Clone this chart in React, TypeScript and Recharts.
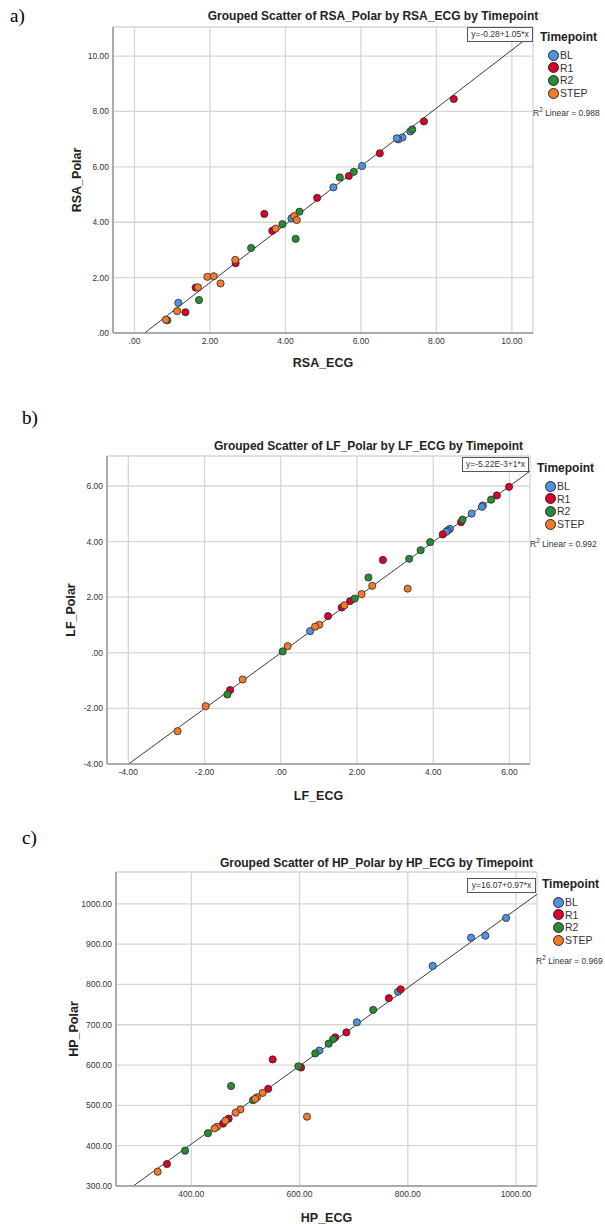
import React from "react";
import {
  CartesianGrid,
  ReferenceLine,
  Scatter,
  ScatterChart,
  XAxis,
  YAxis,
} from "recharts";

// Timepoint groups and their colours
const groups = ["BL", "R1", "R2", "STEP"];
const groupColors = ["#4f93e0", "#d9002b", "#2b8a35", "#f27a2a"];

// a) RSA
const rsaBL = [
  { x: 5.27, y: 5.26 }, { x: 4.16, y: 4.14 }, { x: 1.16, y: 1.09 }, { x: 7.31, y: 7.28 },
  { x: 7.1, y: 7.06 }, { x: 6.99, y: 6.99 }, { x: 6.95, y: 7.03 }, { x: 6.03, y: 6.03 },
];
const rsaR1 = [
  { x: 4.84, y: 4.88 }, { x: 3.44, y: 4.3 }, { x: 3.65, y: 3.69 }, { x: 2.68, y: 2.52 },
  { x: 1.62, y: 1.64 }, { x: 1.35, y: 0.75 }, { x: 8.46, y: 8.45 }, { x: 7.67, y: 7.64 },
  { x: 6.5, y: 6.49 }, { x: 5.68, y: 5.67 },
];
const rsaR2 = [
  { x: 4.37, y: 4.38 }, { x: 3.92, y: 3.93 }, { x: 4.27, y: 3.4 }, { x: 3.09, y: 3.07 },
  { x: 1.71, y: 1.19 }, { x: 0.87, y: 0.46 }, { x: 7.36, y: 7.35 }, { x: 5.81, y: 5.82 },
  { x: 5.44, y: 5.62 },
];
const rsaSTEP = [
  { x: 4.23, y: 4.22 }, { x: 4.3, y: 4.08 }, { x: 3.74, y: 3.77 }, { x: 2.67, y: 2.64 },
  { x: 1.93, y: 2.03 }, { x: 2.1, y: 2.05 }, { x: 2.28, y: 1.79 }, { x: 1.68, y: 1.65 },
  { x: 1.13, y: 0.79 }, { x: 0.83, y: 0.48 },
];
const rsaTicks = [0, 2, 4, 6, 8, 10];

// b) LF
const lfBL = [
  { x: 5.3, y: 5.3 }, { x: 5.28, y: 5.25 }, { x: 5.01, y: 5.01 }, { x: 4.44, y: 4.46 },
  { x: 4.38, y: 4.4 }, { x: 4.34, y: 4.35 }, { x: 0.77, y: 0.78 },
];
const lfR1 = [
  { x: 5.99, y: 5.97 }, { x: 5.67, y: 5.66 }, { x: 4.73, y: 4.7 }, { x: 4.25, y: 4.26 },
  { x: 2.68, y: 3.34 }, { x: 1.82, y: 1.86 }, { x: 1.6, y: 1.63 }, { x: 1.24, y: 1.32 },
  { x: -1.33, y: -1.34 },
];
const lfR2 = [
  { x: 5.52, y: 5.51 }, { x: 4.77, y: 4.79 }, { x: 3.92, y: 3.98 }, { x: 3.67, y: 3.69 },
  { x: 3.37, y: 3.38 }, { x: 2.3, y: 2.71 }, { x: 1.94, y: 1.95 }, { x: 0.05, y: 0.05 },
  { x: -1.4, y: -1.5 },
];
const lfSTEP = [
  { x: 2.4, y: 2.41 }, { x: 3.33, y: 2.31 }, { x: 2.12, y: 2.11 }, { x: 1.67, y: 1.71 },
  { x: 1.01, y: 1.01 }, { x: 0.9, y: 0.94 }, { x: 0.18, y: 0.24 }, { x: -1.0, y: -0.96 },
  { x: -1.97, y: -1.92 }, { x: -2.71, y: -2.82 },
];
const lfTicks = [-4, -2, 0, 2, 4, 6];

// c) HP
const hpBL = [
  { x: 981.7, y: 965 }, { x: 943.4, y: 921 }, { x: 917, y: 916 }, { x: 846, y: 846 },
  { x: 782, y: 782 }, { x: 706, y: 706 }, { x: 636.6, y: 636 },
];
const hpR1 = [
  { x: 786.9, y: 788 }, { x: 765, y: 766 }, { x: 686.5, y: 681 }, { x: 666, y: 669 },
  { x: 602.8, y: 594 }, { x: 550.3, y: 614 }, { x: 542, y: 541 }, { x: 469, y: 467 },
  { x: 458.6, y: 454.6 }, { x: 355, y: 354.6 },
];
const hpR2 = [
  { x: 736, y: 737 }, { x: 662, y: 664 }, { x: 653.8, y: 653 }, { x: 629, y: 629 },
  { x: 597.8, y: 597 }, { x: 473.4, y: 548 }, { x: 514, y: 513 }, { x: 430.8, y: 431 },
  { x: 388.4, y: 387.6 },
];
const hpSTEP = [
  { x: 613.8, y: 472 }, { x: 531.8, y: 531 }, { x: 521.4, y: 520 }, { x: 518, y: 516 },
  { x: 490.6, y: 490 }, { x: 481.9, y: 482 }, { x: 462.8, y: 462 }, { x: 447.5, y: 447 },
  { x: 443, y: 443 }, { x: 337.7, y: 335.5 },
];
const hpXTicks = [400, 600, 800, 1000];
const hpYTicks = [300, 400, 500, 600, 700, 800, 900, 1000];

type Pt = { x: number; y: number };

interface PanelProps {
  letter: string;
  letterPos: [number, number];
  top: number;
  height: number;
  plot: { left: number; right: number; top: number; bottom: number };
  xDomain: [number, number];
  yDomain: [number, number];
  xTicks: number[];
  yTicks: number[];
  series: Pt[][];
  fit: [number, number];
  title: string;
  titleY: number;
  xLabel: string;
  yLabel: string;
  xLabelY: number;
  yLabelX: number;
  eqText: string;
  eqBox: { left: number; top: number; width: number };
  legend: { left: number; top: number; dotX: number };
  r2Text: string;
  r2Pos: [number, number];
}

const fmt = (v: number) => (v === 0 ? ".00" : v.toFixed(2));

const FONT = "'Liberation Sans', Arial, sans-serif";
const YW = 50;
const XH = 20;
const W = 605;

const Panel = (p: PanelProps) => {
  const margin = {
    top: p.plot.top - p.top,
    left: p.plot.left - YW,
    right: W - p.plot.right,
    bottom: p.top + p.height - p.plot.bottom - XH,
  };
  const [b, m] = p.fit;
  const x1 = Math.max(p.xDomain[0], (p.yDomain[0] - b) / m);
  const x2 = Math.min(p.xDomain[1], (p.yDomain[1] - b) / m);
  const cx = (p.plot.left + p.plot.right) / 2;
  const cy = (p.plot.top + p.plot.bottom) / 2;
  return (
    <>
      <div style={{ position: "absolute", left: 0, top: p.top }}>
        <ScatterChart width={W} height={p.height} margin={margin}>
          <CartesianGrid stroke="#d6d6d6" strokeWidth={1.3} />
          <XAxis
            type="number"
            dataKey="x"
            domain={p.xDomain}
            ticks={p.xTicks}
            tickFormatter={fmt}
            allowDataOverflow
            height={XH}
            tickLine={false}
            tickSize={3}
            tickMargin={2}
            axisLine={{ stroke: "#9a9a9a", strokeWidth: 1.5 }}
            tick={{ fontSize: 8.5, fill: "#333", fontFamily: FONT }}
          />
          <YAxis
            type="number"
            dataKey="y"
            domain={p.yDomain}
            ticks={p.yTicks}
            tickFormatter={fmt}
            allowDataOverflow
            width={YW}
            tickLine={false}
            tickSize={3}
            tickMargin={1}
            axisLine={{ stroke: "#9a9a9a", strokeWidth: 1.5 }}
            tick={{ fontSize: 8.5, fill: "#333", fontFamily: FONT }}
          />
          <ReferenceLine
            segment={[
              { x: x1, y: b + m * x1 },
              { x: x2, y: b + m * x2 },
            ]}
            stroke="#3a3a3a"
            strokeWidth={1}
            ifOverflow="hidden"
          />
          {p.series.map((data, i) => (
            <Scatter
              key={groups[i]}
              name={groups[i]}
              data={data}
              isAnimationActive={false}
              shape={(props: any) => (
                <circle
                  cx={props.cx}
                  cy={props.cy}
                  r={3.6}
                  fill={groupColors[i]}
                  stroke="#2a2a2a"
                  strokeWidth={0.8}
                />
              )}
            />
          ))}
        </ScatterChart>
      </div>

      <div
        style={{
          position: "absolute",
          left: p.letterPos[0],
          top: p.letterPos[1],
          fontFamily: "'Liberation Serif', 'Times New Roman', serif",
          fontSize: 19,
          lineHeight: "20px",
        }}
      >
        {p.letter}
      </div>

      <div
        style={{
          position: "absolute",
          left: cx + 50,
          top: p.titleY,
          transform: "translate(-50%, -50%)",
          whiteSpace: "nowrap",
          fontFamily: FONT,
          fontWeight: "bold",
          fontSize: 12,
          color: "#222",
        }}
      >
        {p.title}
      </div>

      <div
        style={{
          position: "absolute",
          left: cx,
          top: p.xLabelY,
          transform: "translate(-50%, -50%)",
          whiteSpace: "nowrap",
          fontFamily: FONT,
          fontWeight: "bold",
          fontSize: 12.5,
          color: "#222",
        }}
      >
        {p.xLabel}
      </div>

      <div
        style={{
          position: "absolute",
          left: p.yLabelX,
          top: cy,
          transform: "translate(-50%, -50%) rotate(-90deg)",
          whiteSpace: "nowrap",
          fontFamily: FONT,
          fontWeight: "bold",
          fontSize: 12.5,
          color: "#222",
        }}
      >
        {p.yLabel}
      </div>

      <div
        style={{
          position: "absolute",
          left: p.eqBox.left,
          top: p.eqBox.top,
          width: p.eqBox.width,
          height: 15,
          boxSizing: "border-box",
          border: "1px solid #555",
          background: "#fff",
          fontFamily: FONT,
          fontSize: 8.5,
          lineHeight: "13px",
          textAlign: "center",
          color: "#333",
          whiteSpace: "nowrap",
        }}
      >
        {p.eqText}
      </div>

      <div
        style={{
          position: "absolute",
          left: p.legend.left,
          top: p.legend.top - 8,
          fontFamily: FONT,
          fontWeight: "bold",
          fontSize: 12,
          lineHeight: "16px",
          color: "#222",
          whiteSpace: "nowrap",
        }}
      >
        Timepoint
      </div>
      {groups.map((g, i) => (
        <div
          key={g}
          style={{
            position: "absolute",
            left: p.legend.dotX - 5,
            top: p.legend.top + 18 + i * 12.7 - 6,
            height: 12,
            display: "flex",
            alignItems: "center",
            fontFamily: FONT,
            fontSize: 10.5,
            color: "#333",
            whiteSpace: "nowrap",
          }}
        >
          <span
            style={{
              display: "inline-block",
              width: 9,
              height: 9,
              borderRadius: "50%",
              background: groupColors[i],
              border: "0.8px solid #2a2a2a",
              marginRight: 1,
            }}
          />
          {g}
        </div>
      ))}

      <div
        style={{
          position: "absolute",
          left: p.r2Pos[0],
          top: p.r2Pos[1] - 6,
          fontFamily: FONT,
          fontSize: 8.5,
          lineHeight: "12px",
          color: "#333",
          whiteSpace: "nowrap",
        }}
      >
        R<sup style={{ fontSize: 6.5 }}>2</sup> {p.r2Text}
      </div>
    </>
  );
};

export default function App() {
  return (
    <div
      style={{
        position: "absolute",
        left: 0,
        top: 0,
        width: W,
        height: 1224,
        background: "#fff",
        overflow: "hidden",
      }}
    >
      <Panel
        letter="a)"
        letterPos={[10, 6]}
        top={0}
        height={350}
        plot={{ left: 113, right: 533, top: 27, bottom: 333 }}
        xDomain={[-0.57, 10.56]}
        yDomain={[0, 11.05]}
        xTicks={rsaTicks}
        yTicks={rsaTicks}
        series={[rsaBL, rsaR1, rsaR2, rsaSTEP]}
        fit={[-0.28, 1.05]}
        title="Grouped Scatter of RSA_Polar by RSA_ECG by Timepoint"
        titleY={16}
        xLabel="RSA_ECG"
        yLabel="RSA_Polar"
        xLabelY={363}
        yLabelX={77}
        eqText="y=-0.28+1.05*x"
        eqBox={{ left: 467, top: 27, width: 66 }}
        legend={{ left: 540, top: 37, dotX: 553 }}
        r2Text="Linear = 0.988"
        r2Pos={[533, 110]}
      />
      <Panel
        letter="b)"
        letterPos={[22, 408]}
        top={400}
        height={385}
        plot={{ left: 107, right: 530, top: 456, bottom: 764 }}
        xDomain={[-4.56, 6.54]}
        yDomain={[-4, 7.08]}
        xTicks={lfTicks}
        yTicks={lfTicks}
        series={[lfBL, lfR1, lfR2, lfSTEP]}
        fit={[-0.00522, 1]}
        title="Grouped Scatter of LF_Polar by LF_ECG by Timepoint"
        titleY={446}
        xLabel="LF_ECG"
        yLabel="LF_Polar"
        xLabelY={796}
        yLabelX={71}
        eqText="y=-5.22E-3+1*x"
        eqBox={{ left: 462, top: 457, width: 67 }}
        legend={{ left: 537, top: 468, dotX: 550 }}
        r2Text="Linear = 0.992"
        r2Pos={[530, 541]}
      />
      <Panel
        letter="c)"
        letterPos={[22, 828]}
        top={820}
        height={390}
        plot={{ left: 116, right: 537, top: 872, bottom: 1186 }}
        xDomain={[260.8, 1038.8]}
        yDomain={[300, 1079]}
        xTicks={hpXTicks}
        yTicks={hpYTicks}
        series={[hpBL, hpR1, hpR2, hpSTEP]}
        fit={[16.07, 0.97]}
        title="Grouped Scatter of HP_Polar by HP_ECG by Timepoint"
        titleY={863}
        xLabel="HP_ECG"
        yLabel="HP_Polar"
        xLabelY={1218}
        yLabelX={74}
        eqText="y=16.07+0.97*x"
        eqBox={{ left: 467, top: 878, width: 69 }}
        legend={{ left: 542, top: 884, dotX: 558 }}
        r2Text="Linear = 0.969"
        r2Pos={[536, 958]}
      />
    </div>
  );
}
